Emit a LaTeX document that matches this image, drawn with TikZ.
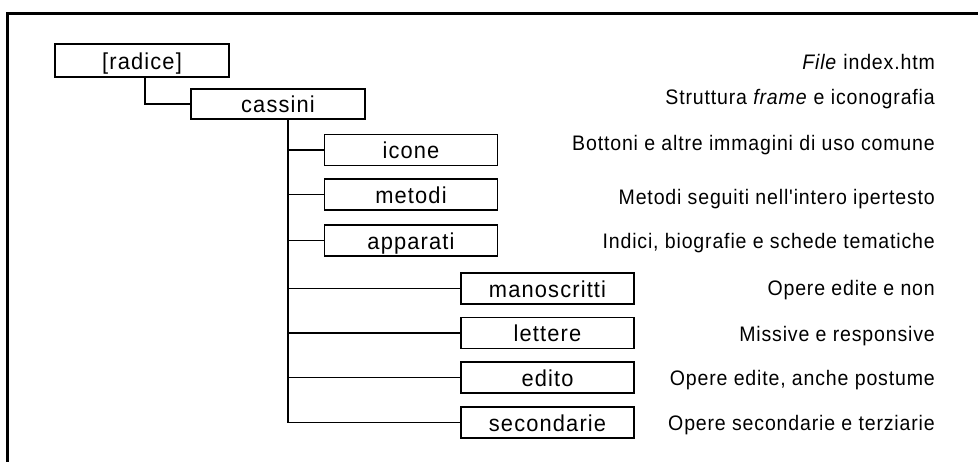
\documentclass[tikz,border=0pt]{standalone}
\usepackage{fontspec}
\setmainfont{Liberation Sans}
\newfontfamily\boxfont[LetterSpace=5,FakeStretch=0.95]{Liberation Sans}
\newfontfamily\labfont[LetterSpace=4,FakeStretch=0.93]{Liberation Sans}
\begin{document}
\begin{tikzpicture}[x=1pt,y=-1pt,
  dirbox/.style={draw=black,line width=1.3pt,minimum width=173pt,minimum height=31pt,
    inner sep=0pt,text height=17pt,text depth=0pt,
    font=\boxfont\fontsize{23}{26}\selectfont},
  lab/.style={anchor=base east,inner sep=0pt,font=\labfont\fontsize{21}{24}\selectfont},
  conn/.style={line width=1.3pt},
  frame/.style={line width=2.3pt}]
\useasboundingbox (0,0) rectangle (978,461);
\coordinate (fc) at (7.5,13.5);
\coordinate (fr) at (980,13.5);
\coordinate (fb) at (7.5,463);
\draw[frame] (fr) -- (fc) -- (fb);

\node[dirbox,minimum width=174pt,minimum height=33pt] (radice) at (142,60.5) {[radice]};
\node[dirbox,minimum width=174pt,minimum height=30pt] (cassini) at (278,104) {cassini};
\node[dirbox] (icone) at (411,150) {icone};
\node[dirbox] (metodi) at (411,194.5) {metodi};
\node[dirbox] (apparati) at (411,240.5) {apparati};
\node[dirbox] (manoscritti) at (547.5,288.5) {manoscritti};
\node[dirbox] (lettere) at (547.5,333) {lettere};
\node[dirbox] (edito) at (547.5,377.5) {edito};
\node[dirbox] (secondarie) at (547.5,422.5) {secondarie};

\coordinate (trunk) at (288,0);
\draw[conn] ([xshift=3pt]radice.south) |- (cassini.west);
\draw[conn] (trunk |- cassini.south) |- (secondarie.west);
\draw[conn] (trunk |- icone.west) -- (icone.west);
\draw[conn] (trunk |- metodi.west) -- (metodi.west);
\draw[conn] (trunk |- apparati.west) -- (apparati.west);
\draw[conn] (trunk |- manoscritti.west) -- (manoscritti.west);
\draw[conn] (trunk |- lettere.west) -- (lettere.west);
\draw[conn] (trunk |- edito.west) -- (edito.west);

\node[lab] (l1) at (935,69) {\textit{File} index.htm};
\node[lab] (l2) at (935,104) {Struttura \textit{frame} e iconografia};
\node[lab] (l3) at (935,150) {Bottoni e altre immagini di uso comune};
\node[lab] (l4) at (935,204) {Metodi seguiti nell'intero ipertesto};
\node[lab] (l5) at (935,248) {Indici, biografie e schede tematiche};
\node[lab] (l6) at (935,295) {Opere edite e non};
\node[lab] (l7) at (935,341) {Missive e responsive};
\node[lab] (l8) at (935,385) {Opere edite, anche postume};
\node[lab] (l9) at (935,430) {Opere secondarie e terziarie};
\end{tikzpicture}
\end{document}
